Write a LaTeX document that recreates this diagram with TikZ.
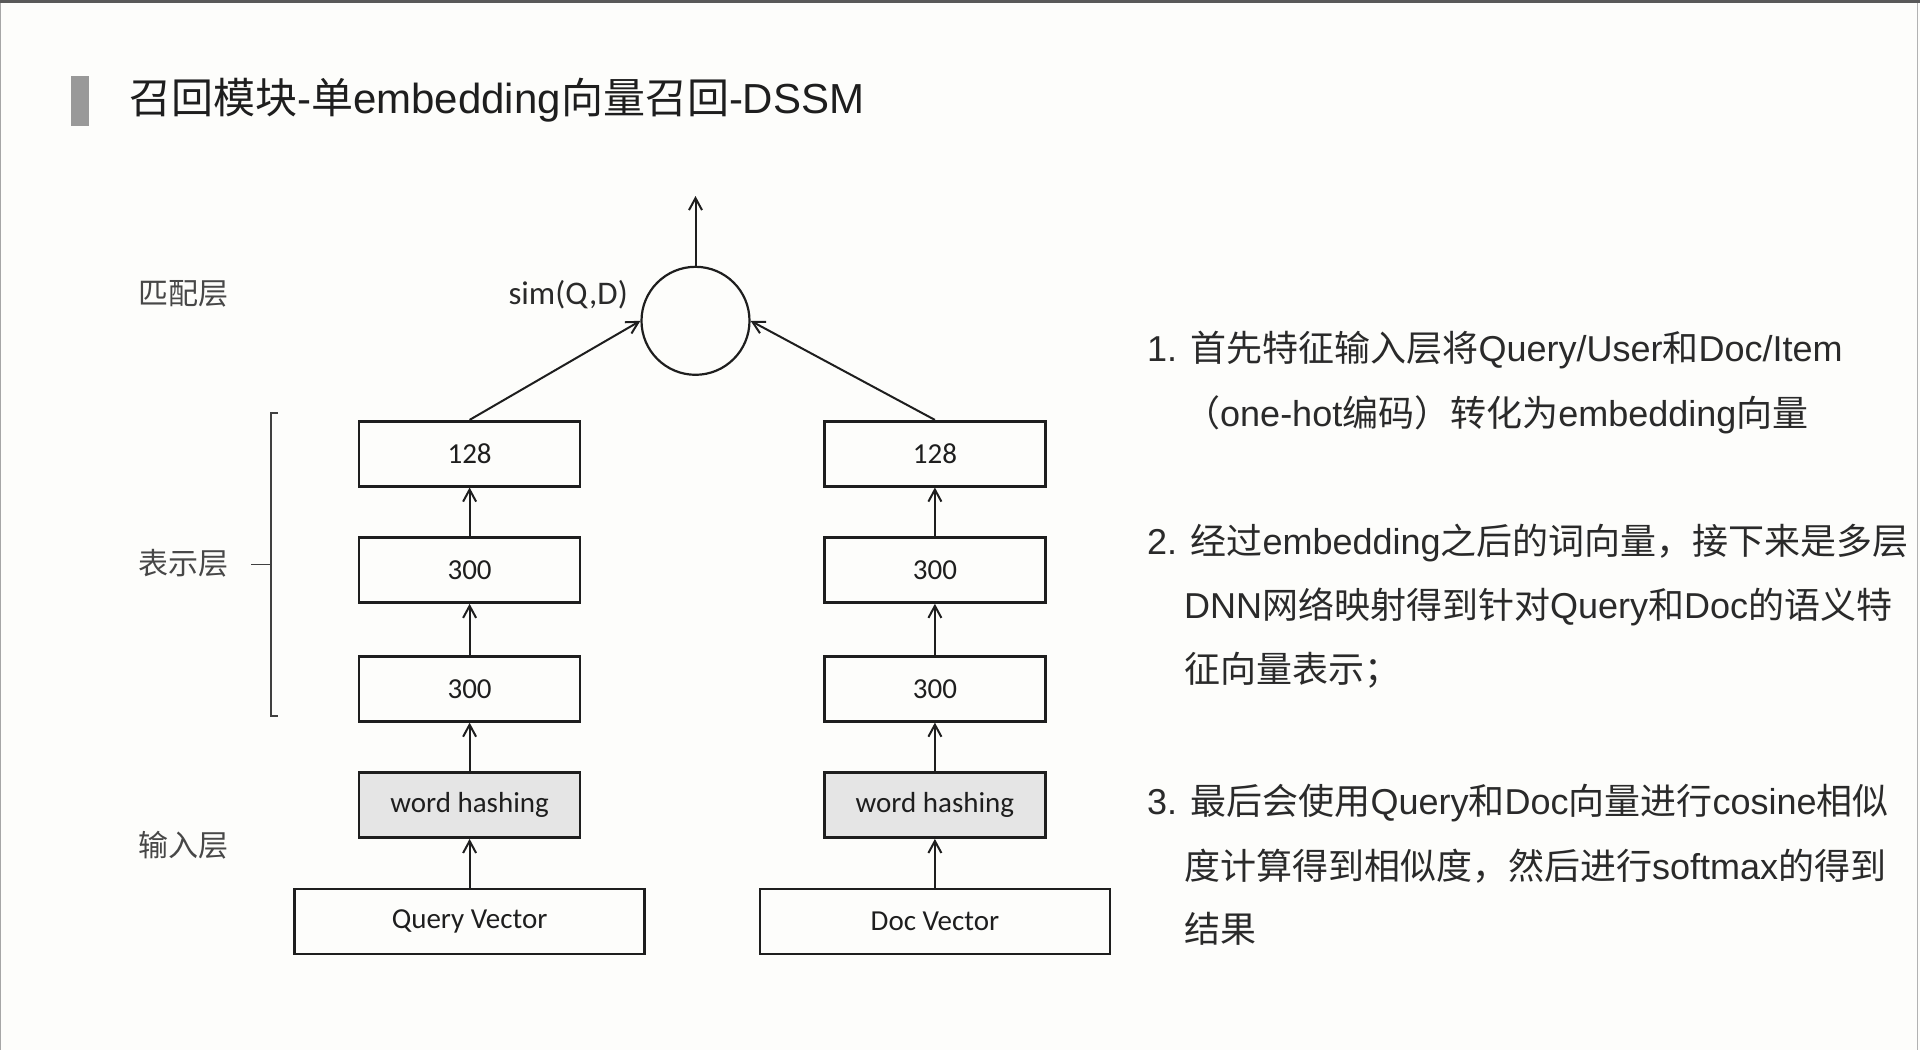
\documentclass[tikz,border=0pt]{standalone}
\usepackage{fontspec}
\setmainfont{Liberation Sans}
\newfontfamily\cjk{Noto Sans CJK SC}
\newfontfamily\calfont{Carlito}
\usetikzlibrary{arrows.meta}
\newcommand\zh[1]{{\cjk #1}}
\definecolor{bg}{HTML}{FDFDFB}
\definecolor{ink}{HTML}{1E1E1E}
\definecolor{txt}{HTML}{2A2A2A}
\begin{document}
\begin{tikzpicture}[x=1pt,y=-1pt,
  layerbox/.style={draw=ink, line width=2.6pt, minimum width=221pt, minimum height=65pt, inner sep=0pt, font=\calfont\fontsize{29}{34}\selectfont, text=ink},
  hashbox/.style={layerbox, fill=black!10},
  vecbox/.style={layerbox, minimum width=350pt},
  arr/.style={draw=ink, line width=2pt, -{Straight Barb[length=12pt,width=13pt,line width=2pt]}},
  sidelabel/.style={font=\cjk\fontsize{30}{34}\selectfont, text=black!72},
  desc/.style={anchor=base west, inner sep=0pt, font=\fontsize{36}{40}\selectfont, text=txt},
]
\useasboundingbox (0,0) rectangle (1920,1050);
\fill[bg] (0,0) rectangle (1920,1050);
\draw[black!35, line width=1pt] (0.5,0) -- (0.5,1050);
\draw[black!30, line width=1pt] (1917,0) -- (1917,1050);
\draw[black!65, line width=3pt] (0,1.5) -- (1920,1.5);

% title
\fill[black!40] (71,76) rectangle (89,126);
\node[anchor=base west, inner sep=0pt, font=\fontsize{42}{46}\selectfont, text=ink] (title) at (129,113)
  {\zh{召回模块}-\zh{单}embedding\zh{向量召回}-DSSM};

% side labels
\node[sidelabel] (lmatch) at (183.7,294) {匹配层};
\node[sidelabel] (lrep) at (183.7,563) {表示层};
\node[sidelabel] (lin) at (183.7,845) {输入层};
\draw[black!75, line width=1.8pt] (278,413) -- (270.6,413) -- (270.6,716) -- (278,716);
\draw[black!75, line width=1.8pt] (270.6,564.5) -- (251,564.5);

% query column
\node[layerbox] (q3) at (469.6,453.7) {128};
\node[layerbox] (q2) at (469.6,570) {300};
\node[layerbox] (q1) at (469.6,688.8) {300};
\node[hashbox] (qh) at (469.6,805.1) {word hashing};
\node[vecbox] (qv) at (469.6,921.4) {Query Vector};

% doc column
\node[layerbox] (d3) at (934.9,453.7) {128};
\node[layerbox] (d2) at (934.9,570) {300};
\node[layerbox] (d1) at (934.9,688.8) {300};
\node[hashbox] (dh) at (934.9,805.1) {word hashing};
\node[vecbox] (dv) at (934.9,921.4) {Doc Vector};

% similarity
\node[circle, draw=ink, line width=2.2pt, minimum size=108pt, inner sep=0pt] (sim) at (695.5,320.8) {};
\node[anchor=east, inner sep=0pt, font=\calfont\fontsize{33}{36}\selectfont, text=txt] (simlbl) at (628,295) {sim(Q,D)};
\coordinate (out) at (695.5,196);

\draw[arr] (sim.north) -- (out);
\draw[arr] (q3.north) -- (sim.west);
\draw[arr] (d3.north) -- (sim.east);
\foreach \col in {q,d}{
  \draw[arr] (\col v.north) -- (\col h.south);
  \draw[arr] (\col h.north) -- (\col 1.south);
  \draw[arr] (\col 1.north) -- (\col 2.south);
  \draw[arr] (\col 2.north) -- (\col 3.south);
}

% description
\node[desc] (t1) at (1147,361) {1. \zh{首先特征输入层将}Query/User\zh{和}Doc/Item};
\node[desc] (t2) at (1184,426) {\zh{（}one-hot\zh{编码）转化为}embedding\zh{向量}};
\node[desc] (t3) at (1147,554) {2. \zh{经过}embedding\zh{之后的词向量，接下来是多层}};
\node[desc] (t4) at (1184,618) {DNN\zh{网络映射得到针对}Query\zh{和}Doc\zh{的语义特}};
\node[desc] (t5) at (1184,682) {\zh{征向量表示；}};
\node[desc] (t6) at (1147,814) {3. \zh{最后会使用}Query\zh{和}Doc\zh{向量进行}cosine\zh{相似}};
\node[desc] (t7) at (1184,879) {\zh{度计算得到相似度，然后进行}softmax\zh{的得到}};
\node[desc] (t8) at (1184,942) {\zh{结果}};
\end{tikzpicture}
\end{document}
